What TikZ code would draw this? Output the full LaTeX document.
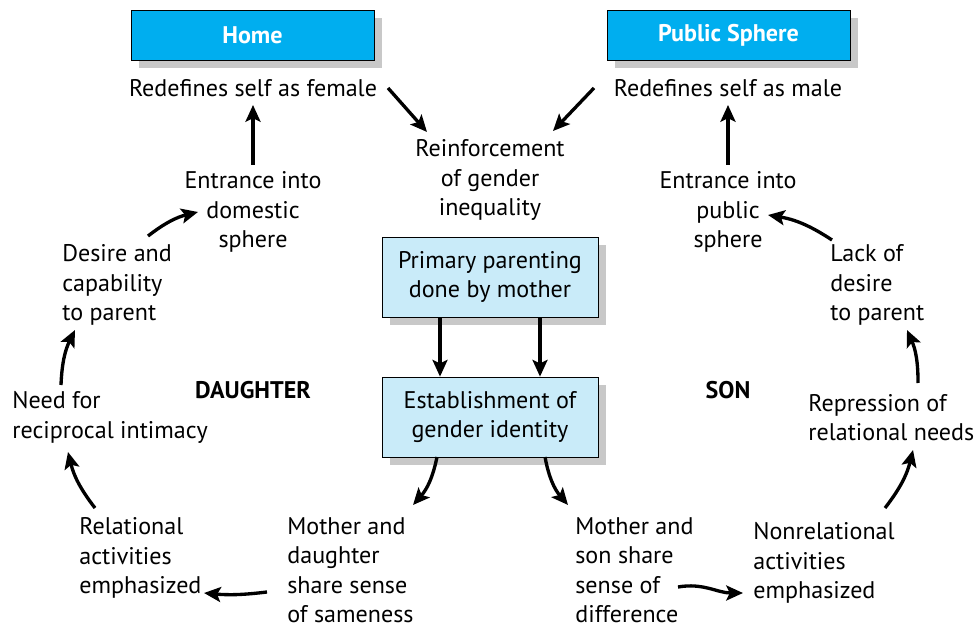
\documentclass[tikz,border=0pt]{standalone}
\usepackage{fontspec}
\setmainfont{PT Sans}
\usepackage{tikz}
\usetikzlibrary{arrows.meta,shadows}

\definecolor{headblue}{RGB}{0,174,239}
\definecolor{paleblue}{RGB}{201,235,249}
\definecolor{shadegray}{RGB}{200,200,200}

\tikzset{
	lbl/.style={font=\fontsize{13.7}{16.8}\selectfont, align=center, inner sep=0pt},
	lbll/.style={lbl, align=left, anchor=west},
	boxshadow/.style={drop shadow={shadow xshift=0.16cm, shadow yshift=-0.16cm, fill=shadegray, opacity=1}},
	header/.style={draw, thin, fill=headblue, text=white, font=\fontsize{13.7}{16.8}\selectfont\bfseries, minimum width=4.86cm, minimum height=1cm, boxshadow},
	stagebox/.style={draw, thin, fill=paleblue, lbl, minimum width=4.32cm, minimum height=1.6cm, boxshadow},
	sidelbl/.style={font=\fontsize{13.7}{16.8}\selectfont\bfseries, inner sep=0pt}
}

\begin{document}
\begin{tikzpicture}
		\useasboundingbox (0,0) rectangle (19.58,-12.54);
		% top
		\node[header] (home) at (5.05,-0.7) {Home};
		\node[header] (pub) at (14.57,-0.7) {Public Sphere};
		\node[lbl] (female) at (5.06,-1.76) {Redefines self as female};
		\node[lbl] (male) at (14.56,-1.76) {Redefines self as male};
		\node[lbl] (reinf) at (9.8,-3.6) {Reinforcement\\of gender\\inequality};
		% centre
		\node[stagebox] (primary) at (9.8,-5.54) {Primary parenting\\done by mother};
		\node[stagebox] (estab) at (9.8,-8.34) {Establishment of\\gender identity};
		% daughter
		\node[sidelbl] (dau) at (5.06,-7.8) {DAUGHTER};
		\node[lbl] (domestic) at (5.06,-4.24) {Entrance into\\domestic\\sphere};
		\node[lbll] (desire) at (1.24,-5.7) {Desire and\\capability\\to parent};
		\node[lbll] (need) at (0.24,-8.35) {Need for\\reciprocal intimacy};
		\node[lbll] (relational) at (1.58,-11.16) {Relational\\activities\\emphasized};
		\node[lbll] (same) at (5.74,-11.4) {Mother and\\daughter\\share sense\\of sameness};
		% son
		\node[sidelbl] (son) at (14.56,-7.8) {SON};
		\node[lbl] (public) at (14.56,-4.24) {Entrance into\\public\\sphere};
		\node[lbll] (lack) at (16.6,-5.7) {Lack of\\desire\\to parent};
		\node[lbll] (repress) at (16.16,-8.35) {Repression of\\relational needs};
		\node[lbll] (nonrel) at (15.06,-11.26) {Nonrelational\\activities\\emphasized};
		\node[lbll] (diff) at (11.5,-11.4) {Mother and\\son share\\sense of\\difference};
		%
		\path[->, line width=1.9pt, >={Stealth[length=9.5pt,width=8.5pt,inset=2pt]}]
		([shift={(2.7,0)}]female.center) edge ([shift={(-1.26,0.96)}]reinf.center)
		([shift={(-2.68,0)}]male.center) edge ([shift={(1.26,0.98)}]reinf.center)
		([shift={(0,0.94)}]domestic.center) edge ([shift={(0,-0.34)}]female.center)
		([shift={(0,0.94)}]public.center) edge ([shift={(0,-0.34)}]male.center)
		([xshift=-1cm]primary.south) edge ([xshift=-1cm]estab.north)
		([xshift=1cm]primary.south) edge ([xshift=1cm]estab.north)
		% daughter cycle
		([shift={(-1.06,-0.8)}]estab.center) edge[bend left=15] ([shift={(2.52,1.3)}]same.west)
		([shift={(-0.4,-0.44)}]same.west) edge[bend left=6] ([shift={(2.5,-0.7)}]relational.west)
		([shift={(0.32,1.0)}]relational.west) edge[bend left=12] ([shift={(1.12,-0.69)}]need.west)
		([shift={(0.98,0.65)}]need.west) edge[bend left=12] ([shift={(0.26,-0.9)}]desire.west)
		([shift={(1.72,0.98)}]desire.west) edge[bend left=12] ([shift={(-1.1,0)}]domestic.center)
		% son cycle
		([shift={(1.1,-0.8)}]estab.center) edge[bend right=15] ([shift={(-0.14,1.3)}]diff.west)
		([shift={(2.06,-0.34)}]diff.west) edge[out=10,in=180] ([shift={(-0.2,-0.6)}]nonrel.west)
		([shift={(2.64,1.1)}]nonrel.west) edge[bend right=12] ([shift={(2.1,-0.65)}]repress.west)
		([shift={(2.2,0.69)}]repress.west) edge[bend right=12] ([shift={(1.54,-0.9)}]lack.west)
		([shift={(0.04,0.9)}]lack.west) edge[bend right=12] ([shift={(0.8,-0.06)}]public.center);
		\end{tikzpicture}
\end{document}
